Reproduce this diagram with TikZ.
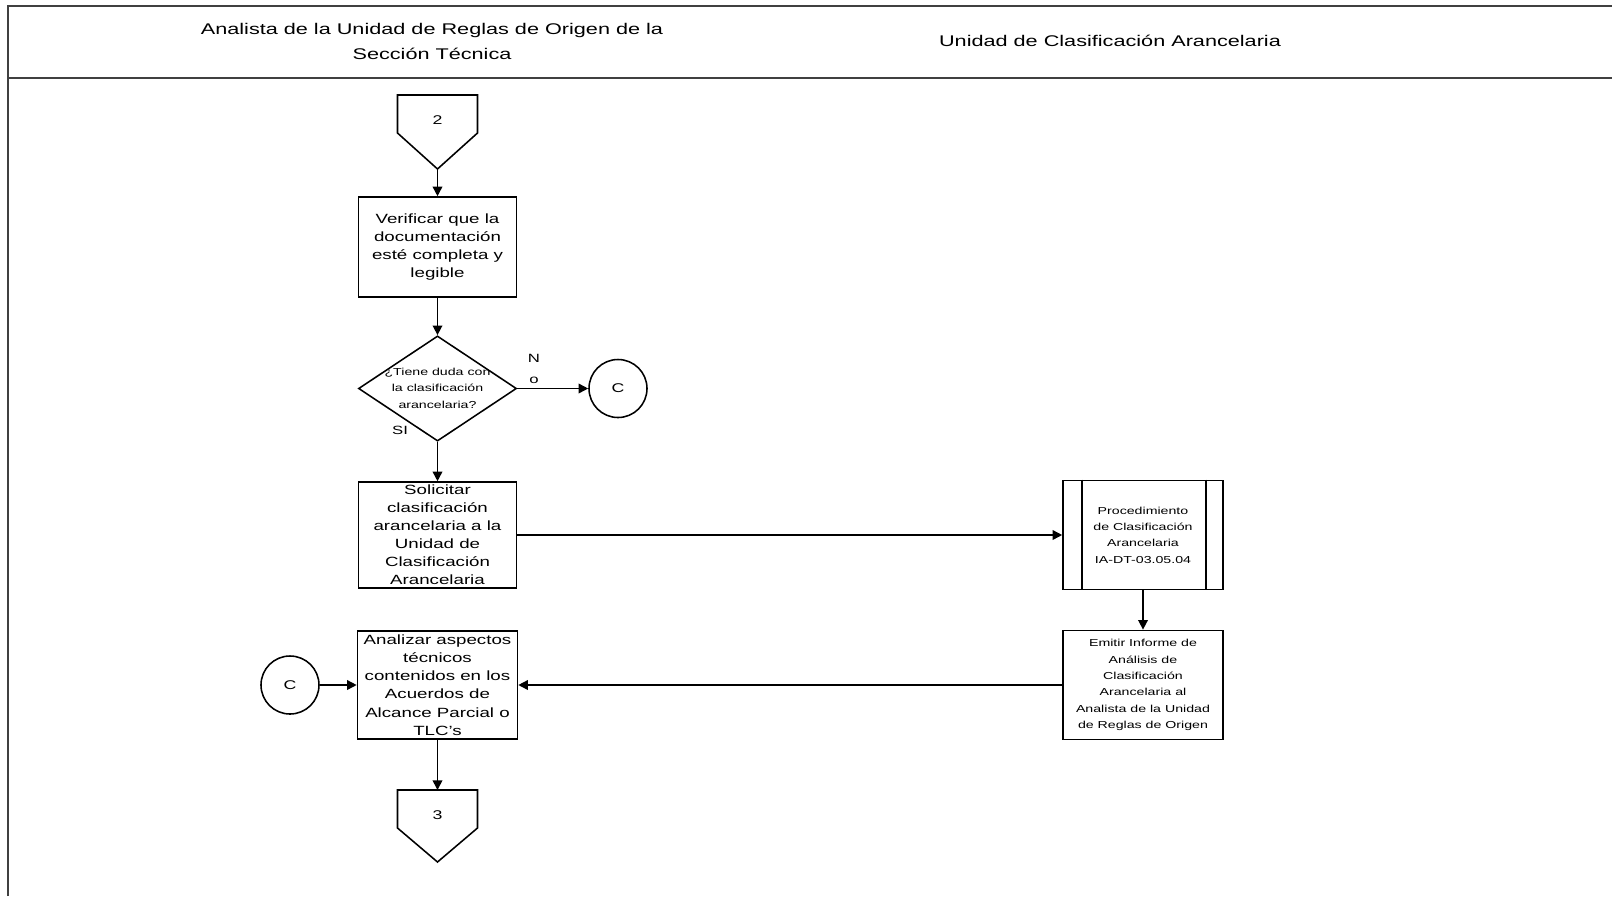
\documentclass[tikz,border=0pt]{standalone}
\usepackage{fontspec}
\setmainfont{Liberation Sans}[FakeStretch=1.4]
\usetikzlibrary{shapes.geometric}
\usetikzlibrary{arrows.meta}

\begin{document}
\begin{tikzpicture}[x=0.025cm, y=-0.025cm,
    marco/.style={line width=1.5pt, black!75},
    caja/.style={draw, rectangle, line width=1.1pt, minimum width=3.95cm, minimum height=2.65cm, inner sep=1pt, align=center, font=\fontsize{9.5}{12.8}\selectfont},
    cajachica/.style={caja, minimum width=4cm, minimum height=2.73cm, font=\fontsize{7.2}{11.6}\selectfont},
    decision/.style={draw, diamond, line width=1.1pt, minimum width=3.95cm, minimum height=2.63cm, inner sep=0pt, font=\fontsize{7.2}{11.6}\selectfont},
    conector/.style={draw, circle, line width=1.1pt, minimum size=1.45cm, inner sep=0pt, font=\fontsize{9}{11}\selectfont},
    pagina/.style={line width=1.1pt},
    etiqueta/.style={font=\fontsize{8.5}{15.5}\selectfont, align=center, inner sep=0pt},
    flecha/.style={-{Triangle[length=2.4mm,width=2.4mm]}, line width=1.1pt}]
    \useasboundingbox (0,0) rectangle (1612,896);

    % marco y carriles
    \draw[marco] (8,896) -- (8,6) -- (1612,6);
    \draw[marco] (8,78) -- (1612,78);
    \node[font=\fontsize{11}{17.5}\selectfont, align=center] (carril1) at (432,41.5) {Analista de la Unidad de Reglas de Origen de la\\Sección Técnica};
    \node[font=\fontsize{11}{17.5}\selectfont] (carril2) at (1110,41) {Unidad de Clasificación Arancelaria};

    % conector de pagina 2
    \draw[pagina] (397.5,95) -- (477.5,95) -- (477.5,133) -- (437.5,169) -- (397.5,133) -- cycle;
    \node[font=\fontsize{9}{11}\selectfont] (pag2) at (437.5,120) {2};
    \coordinate (pag2fin) at (437.5,169);

    \node[caja, minimum height=2.5cm] (verificar) at (437.5,247) {Verificar que la\\documentación\\esté completa y\\legible};
    \node[decision] (dudas) at (437.5,388.5) {\makebox[0pt]{\begin{tabular}{@{}c@{}}¿Tiene duda con\\la clasificación\\arancelaria?\end{tabular}}};
    \node[conector] (conC1) at (618,388.5) {C};
    \node[etiqueta] (etiqNo) at (534,369) {N\\o};
    \node[etiqueta] (etiqSi) at (400,430) {SI};

    \node[caja] (solicitar) at (437.5,535) {Solicitar\\clasificación\\arancelaria a la\\Unidad de\\Clasificación\\Arancelaria};
    \node[cajachica] (procedimiento) at (1143,535) {Procedimiento\\de Clasificación\\Arancelaria\\IA-DT-03.05.04};
    \draw[line width=1.1pt] ([xshift=0.5cm]procedimiento.north west) -- ([xshift=0.5cm]procedimiento.south west);
    \draw[line width=1.1pt] ([xshift=-0.45cm]procedimiento.north east) -- ([xshift=-0.45cm]procedimiento.south east);

    \node[cajachica] (emitir) at (1143,685) {Emitir Informe de\\Análisis de\\Clasificación\\Arancelaria al\\Analista de la Unidad\\de Reglas de Origen};
    \node[caja, minimum width=4cm, minimum height=2.7cm, font=\fontsize{9.5}{13}\selectfont] (analizar) at (437.5,685) {Analizar aspectos\\técnicos\\contenidos en los\\Acuerdos de\\Alcance Parcial o\\TLC's};
    \node[conector] (conC2) at (290,685) {C};

    % conector de pagina 3
    \draw[pagina] (397.5,790) -- (477.5,790) -- (477.5,828) -- (437.5,862) -- (397.5,828) -- cycle;
    \node[font=\fontsize{9}{11}\selectfont] (pag3) at (437.5,815) {3};
    \coordinate (pag3ini) at (437.5,790);

    \draw[flecha] (pag2fin) -- (verificar.north);
    \draw[flecha] (verificar.south) -- (dudas.north);
    \draw[flecha] (dudas.east) -- (conC1.west);
    \draw[flecha] (dudas.south) -- (solicitar.north);
    \draw[flecha] (solicitar.east) -- (procedimiento.west);
    \draw[flecha] (procedimiento.south) -- (emitir.north);
    \draw[flecha] (emitir.west) -- (analizar.east);
    \draw[flecha] (conC2.east) -- (analizar.west);
    \draw[flecha] (analizar.south) -- (pag3ini);
\end{tikzpicture}
\end{document}
